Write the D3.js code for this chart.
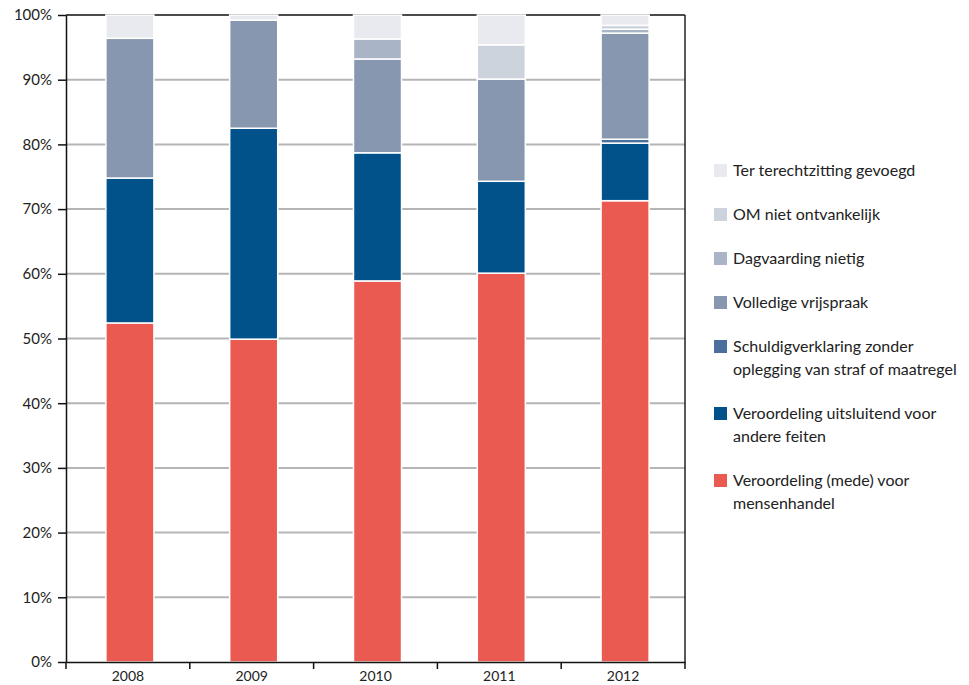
<!DOCTYPE html>
<html><head><meta charset="utf-8">
<script src="https://cdn.jsdelivr.net/npm/d3@7/dist/d3.min.js"></script>
<style>body{margin:0;background:#fff;} svg{display:block;}</style>
</head><body>
<svg id="chart" width="969" height="685"></svg>
<script>
const years = ["2008","2009","2010","2011","2012"];
const seriesNames = ["Veroordeling (mede) voor mensenhandel","Veroordeling uitsluitend voor andere feiten","Schuldigverklaring zonder oplegging van straf of maatregel","Volledige vrijspraak","Dagvaarding nietig","OM niet ontvankelijk","Ter terechtzitting gevoegd"];
const mensenhandel   = [52.4, 49.9, 58.9, 60.1, 71.3];
const andereFeiten   = [22.4, 32.6, 19.8, 14.2, 8.9];
const schuldig       = [0, 0, 0, 0, 0.6];
const vrijspraak     = [21.6, 16.7, 14.5, 15.8, 16.4];
const dagvaarding    = [0, 0, 3.1, 0, 0.6];
const omNiet         = [0, 0, 0, 5.3, 0.6];
const terTerecht     = [3.6, 0.8, 3.7, 4.6, 1.6];
const colors = ["#eb5a50","#01528b","#4b6f9c","#8797b0","#a9b4c6","#ccd3dd","#e9eaef"];
const legendLines = [
  ["Veroordeling (mede) voor","mensenhandel"],
  ["Veroordeling uitsluitend voor","andere feiten"],
  ["Schuldigverklaring zonder","oplegging van straf of maatregel"],
  ["Volledige vrijspraak"],
  ["Dagvaarding nietig"],
  ["OM niet ontvankelijk"],
  ["Ter terechtzitting gevoegd"]
];
const yTicks = [0,10,20,30,40,50,60,70,80,90,100];

const allSeries = [mensenhandel, andereFeiten, schuldig, vrijspraak, dagvaarding, omNiet, terTerecht];
const table = years.map((y,i)=>{const o={year:y}; seriesNames.forEach((n,k)=>o[n]=allSeries[k][i]); return o;});
const stacked = d3.stack().keys(seriesNames)(table);

const svg = d3.select("#chart");
const L=66, R=685, T=15, B=662;
const x = d3.scaleBand().domain(years).range([L,R]).paddingInner(0.612).paddingOuter(0.306);
const xBar = x.copy().range([L+2,R+2]);
const y = d3.scaleLinear().domain([0,100]).range([B,T]);
const font = "Lato, 'Noto Sans', sans-serif";

// gridlines
svg.append("g").selectAll("line").data(yTicks.filter(t=>t>0&&t<100)).join("line")
  .attr("x1",L).attr("x2",R).attr("y1",d=>y(d)).attr("y2",d=>y(d))
  .attr("stroke","#b5b5b5").attr("stroke-width",2);

// top & right border
svg.append("line").attr("x1",L).attr("x2",R).attr("y1",T).attr("y2",T).attr("stroke","#4a4a4a").attr("stroke-width",2);
svg.append("line").attr("x1",R).attr("x2",R).attr("y1",T).attr("y2",B).attr("stroke","#222").attr("stroke-width",1.5);

// bars
const g = svg.append("g");
stacked.forEach((s,k)=>{
  g.append("g").selectAll("rect").data(s.filter(d=>d[1]-d[0]>0)).join("rect")
    .attr("x",d=>xBar(d.data.year)).attr("width",xBar.bandwidth())
    .attr("y",d=>y(d[1])).attr("height",d=>y(d[0])-y(d[1]))
    .attr("fill",colors[k]).attr("stroke","#fff").attr("stroke-width",1.5);
});

// y axis
const yAxis = svg.append("g").attr("transform",`translate(${L},0)`)
  .call(d3.axisLeft(y).tickValues(yTicks).tickFormat(d=>d+"%").tickSize(8).tickSizeOuter(0).tickPadding(6));
yAxis.select(".domain").attr("stroke","#111").attr("stroke-width",1.5);
yAxis.selectAll(".tick line").attr("stroke","#111").attr("stroke-width",1.5);
yAxis.selectAll("text").attr("font-family",font).attr("font-size",15).attr("fill","#222");

// x axis
const xAxis = svg.append("g").attr("transform",`translate(0,${B})`)
  .call(d3.axisBottom(x).tickSize(0).tickPadding(9));
xAxis.select(".domain").attr("stroke","#111").attr("stroke-width",1.5);
xAxis.selectAll("text").attr("font-family",font).attr("font-size",14).attr("fill","#222");
// boundary ticks between categories
const bounds = years.map(yv=>x(yv)-x.step()*x.paddingOuter()).concat([R]);
xAxis.append("g").selectAll("line").data(bounds).join("line")
  .attr("x1",d=>d).attr("x2",d=>d).attr("y1",0).attr("y2",7)
  .attr("stroke","#111").attr("stroke-width",1.5);

// legend
const lg = svg.append("g");
let baseline = 176;
const order = [6,5,4,3,2,1,0];
order.forEach(k=>{
  const lines = legendLines[k];
  lg.append("rect").attr("x",714).attr("y",baseline-12).attr("width",13).attr("height",13).attr("fill",colors[k]);
  lines.forEach((t,j)=>{
    lg.append("text").attr("x",733).attr("y",baseline+j*23).text(t)
      .attr("font-family",font).attr("font-size",16).attr("fill","#222");
  });
  baseline += 44 + (lines.length-1)*23;
});
</script>
</body></html>
